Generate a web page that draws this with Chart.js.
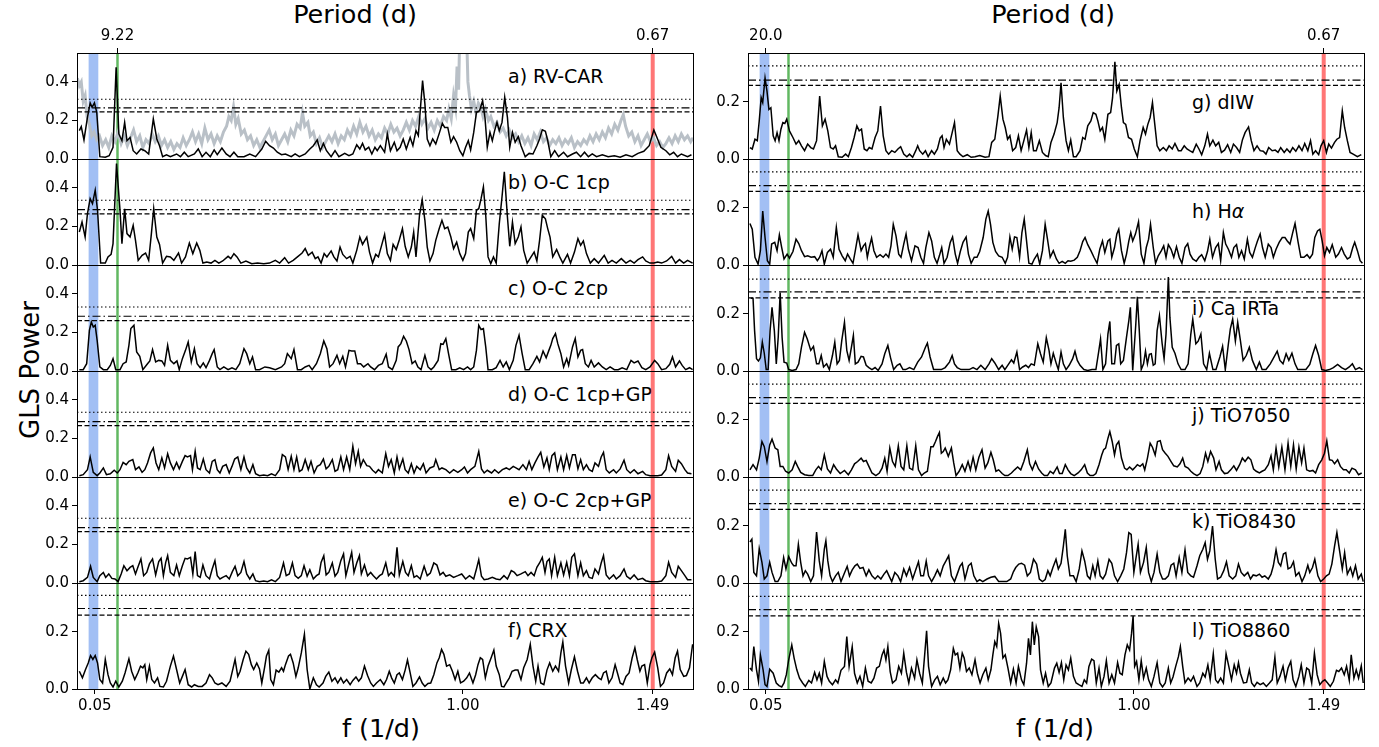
<!DOCTYPE html>
<html>
<head>
<meta charset="utf-8">
<title>GLS periodograms</title>
<script src="https://cdn.jsdelivr.net/npm/chart.js@4.4.1/dist/chart.umd.min.js"></script>
<style>
  html, body { margin: 0; padding: 0; background: #fff; }
  body { width: 1379px; height: 747px; position: relative; overflow: hidden; font-family: "DejaVu Sans", sans-serif; color: #000; }
  .panel { position: absolute; }
  .lbl { position: absolute; white-space: nowrap; font-size: 19px; line-height: 1; transform: translateY(-50%); }
  .ttl { position: absolute; white-space: nowrap; font-size: 25.5px; line-height: 1; transform: translate(-50%, -50%); }
</style>
</head>
<body>
<div class="ttl" style="left:355px;top:15px">Period (d)</div>
<div class="ttl" style="left:1053px;top:15px">Period (d)</div>
<div class="ttl" style="left:381px;top:729px">f (1/d)</div>
<div class="ttl" style="left:1055px;top:729px">f (1/d)</div>
<div class="ttl" style="left:30px;top:370px;font-size:26px;transform:translate(-50%,-50%) rotate(-90deg)">GLS Power</div>

<div class="lbl" style="left:508px;top:76px">a) RV-CAR</div>
<div class="lbl" style="left:508px;top:182px">b) O-C 1cp</div>
<div class="lbl" style="left:508px;top:288px">c) O-C 2cp</div>
<div class="lbl" style="left:508px;top:394px">d) O-C 1cp+GP</div>
<div class="lbl" style="left:508px;top:500px">e) O-C 2cp+GP</div>
<div class="lbl" style="left:508px;top:630px">f) CRX</div>
<div class="lbl" style="left:1192px;top:102px">g) dIW</div>
<div class="lbl" style="left:1192px;top:211px">h) H<i>α</i></div>
<div class="lbl" style="left:1192px;top:308px">i) Ca IRTa</div>
<div class="lbl" style="left:1192px;top:415px">j) TiO7050</div>
<div class="lbl" style="left:1192px;top:521px">k) TiO8430</div>
<div class="lbl" style="left:1192px;top:630px">l) TiO8860</div>

<script>
// frequency range (1/d) and marked signals
const xMin = 0.004, xMax = 1.594;
const blueBand = [0.034, 0.059];
const greenF = 0.1085;
const redF = 1.49;
const bottomTicks = [0.05, 1.00, 1.49];
const topTicksLeft = [0.1085, 1.49];
const topLabelsLeft = ["9.22", "0.67"];
const topTicksRight = [0.05, 1.49];
const topLabelsRight = ["20.0", "0.67"];

// FAP levels per panel a..l
const fapDotted  = [0.310, 0.336, 0.332, 0.336, 0.336, 0.327, 0.325, 0.325, 0.321, 0.324, 0.324, 0.323];
const fapDashDot = [0.265, 0.287, 0.284, 0.287, 0.287, 0.281, 0.275, 0.277, 0.276, 0.277, 0.277, 0.277];
const fapDashed  = [0.244, 0.265, 0.261, 0.267, 0.267, 0.258, 0.257, 0.257, 0.255, 0.257, 0.257, 0.255];

// [frequency, power]
const rvCar = [[0.010,0.147],[0.015,0.168],[0.022,0.099],[0.031,0.216],[0.038,0.291],[0.043,0.268],[0.049,0.291],[0.055,0.242],[0.063,0.012],[0.077,0.009],[0.087,0.017],[0.097,0.061],[0.105,0.476],[0.112,0.130],[0.120,0.095],[0.127,0.190],[0.133,0.095],[0.141,0.112],[0.149,0.043],[0.158,0.026],[0.169,0.052],[0.179,0.043],[0.189,0.026],[0.201,0.208],[0.210,0.104],[0.217,0.069],[0.225,0.012],[0.235,0.022],[0.245,0.012],[0.261,0.026],[0.271,0.012],[0.281,0.035],[0.291,0.012],[0.307,0.026],[0.317,0.052],[0.327,0.012],[0.337,0.035],[0.348,0.012],[0.358,0.047],[0.366,0.022],[0.378,0.057],[0.389,0.026],[0.399,0.012],[0.409,0.035],[0.419,0.012],[0.435,0.012],[0.450,0.026],[0.465,0.012],[0.481,0.052],[0.491,0.092],[0.501,0.069],[0.511,0.057],[0.521,0.035],[0.532,0.022],[0.542,0.026],[0.557,0.012],[0.567,0.026],[0.578,0.012],[0.593,0.026],[0.605,0.052],[0.614,0.069],[0.624,0.099],[0.632,0.043],[0.640,0.081],[0.648,0.043],[0.660,0.012],[0.670,0.043],[0.680,0.012],[0.695,0.029],[0.706,0.017],[0.716,0.026],[0.726,0.074],[0.734,0.052],[0.741,0.081],[0.748,0.047],[0.757,0.061],[0.765,0.026],[0.773,0.061],[0.779,0.043],[0.787,0.069],[0.798,0.035],[0.805,0.130],[0.813,0.043],[0.823,0.087],[0.830,0.043],[0.838,0.061],[0.846,0.104],[0.854,0.052],[0.864,0.112],[0.871,0.069],[0.879,0.147],[0.885,0.121],[0.896,0.407],[0.902,0.286],[0.908,0.104],[0.915,0.069],[0.922,0.104],[0.930,0.078],[0.939,0.133],[0.947,0.185],[0.953,0.164],[0.961,0.164],[0.969,0.087],[0.976,0.116],[0.984,0.087],[0.992,0.043],[1.000,0.017],[1.007,0.061],[1.014,0.095],[1.020,0.047],[1.028,0.138],[1.035,0.242],[1.043,0.251],[1.051,0.303],[1.057,0.216],[1.063,0.061],[1.070,0.138],[1.076,0.095],[1.082,0.147],[1.088,0.190],[1.094,0.147],[1.101,0.190],[1.108,0.320],[1.115,0.216],[1.121,0.061],[1.128,0.138],[1.135,0.087],[1.143,0.116],[1.150,0.069],[1.161,0.012],[1.171,0.029],[1.181,0.026],[1.191,0.069],[1.198,0.104],[1.205,0.151],[1.213,0.144],[1.219,0.095],[1.227,0.012],[1.237,0.043],[1.247,0.012],[1.260,0.035],[1.270,0.012],[1.283,0.026],[1.293,0.035],[1.304,0.012],[1.314,0.035],[1.324,0.012],[1.334,0.026],[1.345,0.012],[1.360,0.022],[1.375,0.012],[1.391,0.017],[1.406,0.009],[1.421,0.022],[1.437,0.012],[1.452,0.029],[1.467,0.040],[1.481,0.069],[1.493,0.151],[1.501,0.112],[1.511,0.061],[1.524,0.043],[1.534,0.022],[1.544,0.035],[1.554,0.012],[1.564,0.026],[1.580,0.012],[1.590,0.022]];

// window function drawn behind panel a
const rvCarWindow = [[0.005,0.42],[0.010,0.38],[0.015,0.40],[0.020,0.30],[0.025,0.33],[0.030,0.22],[0.036,0.18],[0.042,0.12],[0.048,0.14],[0.055,0.10],[0.062,0.12],[0.070,0.07],[0.078,0.10],[0.086,0.06],[0.094,0.12],[0.102,0.09],[0.110,0.14],[0.118,0.08],[0.126,0.12],[0.134,0.07],[0.142,0.11],[0.150,0.15],[0.158,0.09],[0.166,0.12],[0.174,0.06],[0.182,0.10],[0.190,0.08],[0.198,0.13],[0.206,0.09],[0.214,0.12],[0.222,0.07],[0.230,0.10],[0.238,0.06],[0.246,0.09],[0.254,0.05],[0.262,0.08],[0.270,0.06],[0.278,0.11],[0.286,0.07],[0.294,0.10],[0.302,0.14],[0.310,0.09],[0.318,0.13],[0.326,0.08],[0.334,0.16],[0.342,0.10],[0.350,0.13],[0.358,0.08],[0.366,0.12],[0.374,0.09],[0.382,0.14],[0.390,0.17],[0.396,0.22],[0.402,0.20],[0.408,0.27],[0.414,0.18],[0.420,0.21],[0.428,0.13],[0.436,0.15],[0.444,0.10],[0.452,0.12],[0.460,0.07],[0.468,0.10],[0.476,0.06],[0.484,0.09],[0.492,0.12],[0.500,0.15],[0.508,0.10],[0.516,0.13],[0.524,0.07],[0.532,0.10],[0.540,0.13],[0.548,0.09],[0.556,0.15],[0.564,0.12],[0.572,0.18],[0.580,0.16],[0.586,0.24],[0.592,0.17],[0.600,0.19],[0.606,0.12],[0.614,0.14],[0.622,0.08],[0.630,0.11],[0.638,0.06],[0.646,0.09],[0.654,0.12],[0.662,0.09],[0.670,0.13],[0.678,0.08],[0.686,0.12],[0.694,0.10],[0.702,0.15],[0.710,0.12],[0.718,0.17],[0.726,0.13],[0.734,0.19],[0.742,0.14],[0.750,0.17],[0.758,0.12],[0.766,0.15],[0.774,0.10],[0.782,0.13],[0.790,0.11],[0.798,0.16],[0.806,0.13],[0.814,0.18],[0.822,0.14],[0.830,0.16],[0.838,0.12],[0.846,0.15],[0.854,0.19],[0.862,0.15],[0.870,0.20],[0.878,0.17],[0.886,0.22],[0.894,0.18],[0.902,0.21],[0.910,0.16],[0.918,0.19],[0.926,0.15],[0.934,0.20],[0.942,0.17],[0.950,0.22],[0.958,0.20],[0.964,0.26],[0.970,0.21],[0.976,0.33],[0.981,0.27],[0.985,0.48],[0.989,0.36],[0.993,0.75],[0.997,0.55],[1.001,0.90],[1.005,0.62],[1.009,0.70],[1.013,0.40],[1.017,0.33],[1.022,0.26],[1.028,0.30],[1.034,0.24],[1.040,0.29],[1.046,0.27],[1.052,0.22],[1.058,0.26],[1.066,0.20],[1.072,0.22],[1.080,0.17],[1.088,0.19],[1.096,0.14],[1.104,0.16],[1.112,0.12],[1.120,0.15],[1.128,0.11],[1.136,0.13],[1.144,0.09],[1.152,0.12],[1.160,0.08],[1.168,0.11],[1.176,0.07],[1.184,0.13],[1.192,0.10],[1.200,0.14],[1.208,0.09],[1.216,0.11],[1.224,0.07],[1.232,0.10],[1.240,0.08],[1.248,0.11],[1.256,0.07],[1.264,0.10],[1.272,0.08],[1.280,0.11],[1.288,0.06],[1.296,0.09],[1.304,0.07],[1.312,0.10],[1.320,0.08],[1.328,0.12],[1.336,0.09],[1.344,0.13],[1.352,0.10],[1.360,0.14],[1.368,0.11],[1.376,0.16],[1.384,0.13],[1.392,0.18],[1.400,0.15],[1.408,0.20],[1.414,0.23],[1.420,0.17],[1.428,0.12],[1.436,0.14],[1.444,0.09],[1.452,0.12],[1.460,0.07],[1.468,0.10],[1.476,0.13],[1.484,0.09],[1.492,0.11],[1.500,0.07],[1.508,0.09],[1.516,0.06],[1.524,0.08],[1.532,0.11],[1.540,0.08],[1.548,0.12],[1.556,0.09],[1.564,0.13],[1.572,0.10],[1.580,0.12],[1.588,0.09],[1.594,0.11]];

const ocOne = [[0.010,0.171],[0.017,0.223],[0.025,0.145],[0.031,0.267],[0.038,0.344],[0.044,0.318],[0.051,0.388],[0.057,0.284],[0.065,0.010],[0.077,0.010],[0.084,0.042],[0.092,0.055],[0.097,0.111],[0.106,0.526],[0.115,0.284],[0.120,0.111],[0.127,0.292],[0.133,0.163],[0.141,0.145],[0.149,0.206],[0.155,0.128],[0.162,0.024],[0.172,0.050],[0.181,0.062],[0.189,0.024],[0.196,0.163],[0.202,0.292],[0.210,0.145],[0.217,0.107],[0.225,0.010],[0.235,0.045],[0.245,0.042],[0.254,0.024],[0.266,0.062],[0.274,0.010],[0.284,0.042],[0.294,0.114],[0.303,0.059],[0.313,0.114],[0.321,0.076],[0.329,0.010],[0.339,0.016],[0.350,0.010],[0.360,0.024],[0.370,0.010],[0.380,0.021],[0.394,0.045],[0.401,0.033],[0.409,0.059],[0.417,0.042],[0.427,0.010],[0.440,0.021],[0.455,0.007],[0.470,0.010],[0.486,0.007],[0.501,0.010],[0.516,0.024],[0.527,0.010],[0.540,0.038],[0.550,0.010],[0.562,0.024],[0.573,0.042],[0.585,0.062],[0.593,0.085],[0.601,0.050],[0.611,0.067],[0.619,0.033],[0.626,0.042],[0.634,0.010],[0.642,0.059],[0.649,0.042],[0.660,0.073],[0.667,0.042],[0.675,0.021],[0.683,0.093],[0.690,0.055],[0.700,0.033],[0.709,0.045],[0.716,0.010],[0.726,0.076],[0.734,0.145],[0.741,0.107],[0.752,0.145],[0.759,0.067],[0.767,0.010],[0.775,0.055],[0.782,0.042],[0.789,0.093],[0.798,0.159],[0.805,0.059],[0.813,0.024],[0.820,0.107],[0.828,0.080],[0.836,0.131],[0.844,0.189],[0.851,0.097],[0.859,0.042],[0.867,0.093],[0.873,0.171],[0.879,0.042],[0.888,0.258],[0.895,0.339],[0.902,0.232],[0.908,0.093],[0.915,0.021],[0.923,0.059],[0.930,0.128],[0.939,0.189],[0.946,0.232],[0.953,0.189],[0.961,0.197],[0.969,0.145],[0.976,0.085],[0.984,0.119],[0.992,0.059],[1.000,0.024],[1.007,0.059],[1.014,0.171],[1.020,0.189],[1.028,0.137],[1.035,0.284],[1.041,0.292],[1.047,0.344],[1.053,0.405],[1.059,0.258],[1.065,0.042],[1.072,0.007],[1.079,0.042],[1.086,0.010],[1.094,0.215],[1.101,0.353],[1.107,0.483],[1.115,0.249],[1.121,0.097],[1.128,0.223],[1.135,0.111],[1.143,0.145],[1.150,0.197],[1.157,0.076],[1.166,0.010],[1.176,0.042],[1.184,0.067],[1.191,0.021],[1.198,0.128],[1.205,0.258],[1.213,0.240],[1.219,0.189],[1.225,0.145],[1.232,0.042],[1.242,0.080],[1.250,0.042],[1.258,0.010],[1.270,0.055],[1.278,0.010],[1.288,0.067],[1.297,0.137],[1.304,0.102],[1.311,0.125],[1.319,0.059],[1.329,0.010],[1.339,0.033],[1.350,0.010],[1.365,0.050],[1.375,0.010],[1.385,0.024],[1.396,0.010],[1.409,0.033],[1.421,0.010],[1.432,0.024],[1.442,0.010],[1.452,0.028],[1.464,0.042],[1.472,0.021],[1.483,0.010],[1.493,0.010],[1.503,0.016],[1.513,0.010],[1.526,0.021],[1.539,0.045],[1.549,0.010],[1.559,0.028],[1.570,0.010],[1.580,0.024],[1.593,0.010]];

const ocTwo = [[0.010,0.007],[0.020,0.007],[0.029,0.038],[0.036,0.211],[0.041,0.254],[0.046,0.228],[0.051,0.237],[0.056,0.159],[0.063,0.021],[0.072,0.007],[0.082,0.007],[0.090,0.029],[0.097,0.064],[0.104,0.007],[0.115,0.007],[0.123,0.038],[0.131,0.047],[0.138,0.133],[0.143,0.220],[0.151,0.237],[0.158,0.099],[0.166,0.076],[0.174,0.007],[0.186,0.038],[0.192,0.052],[0.199,0.111],[0.207,0.047],[0.215,0.055],[0.223,0.052],[0.230,0.029],[0.238,0.133],[0.245,0.055],[0.254,0.038],[0.262,0.052],[0.268,0.007],[0.276,0.064],[0.284,0.107],[0.291,0.151],[0.299,0.047],[0.307,0.116],[0.314,0.038],[0.322,0.017],[0.330,0.042],[0.337,0.017],[0.346,0.055],[0.353,0.090],[0.358,0.111],[0.366,0.021],[0.373,0.007],[0.383,0.021],[0.394,0.007],[0.404,0.017],[0.414,0.007],[0.424,0.038],[0.435,0.116],[0.442,0.090],[0.450,0.038],[0.457,0.073],[0.465,0.007],[0.475,0.007],[0.489,0.021],[0.501,0.017],[0.516,0.007],[0.532,0.021],[0.540,0.038],[0.547,0.090],[0.557,0.064],[0.564,0.111],[0.573,0.007],[0.583,0.007],[0.593,0.021],[0.603,0.029],[0.611,0.007],[0.622,0.038],[0.632,0.090],[0.641,0.156],[0.649,0.116],[0.656,0.021],[0.665,0.038],[0.675,0.081],[0.682,0.038],[0.690,0.076],[0.697,0.021],[0.706,0.107],[0.713,0.104],[0.721,0.104],[0.728,0.038],[0.736,0.038],[0.744,0.021],[0.755,0.038],[0.762,0.021],[0.772,0.007],[0.782,0.029],[0.792,0.038],[0.802,0.087],[0.808,0.021],[0.818,0.007],[0.828,0.055],[0.833,0.125],[0.840,0.142],[0.847,0.180],[0.854,0.156],[0.861,0.111],[0.869,0.038],[0.877,0.052],[0.884,0.021],[0.892,0.007],[0.902,0.081],[0.910,0.021],[0.918,0.007],[0.925,0.021],[0.936,0.055],[0.943,0.142],[0.949,0.138],[0.956,0.168],[0.963,0.090],[0.971,0.007],[0.982,0.007],[0.992,0.017],[1.002,0.007],[1.012,0.021],[1.020,0.007],[1.028,0.021],[1.035,0.107],[1.041,0.237],[1.047,0.215],[1.053,0.220],[1.059,0.125],[1.065,0.007],[1.076,0.007],[1.086,0.017],[1.096,0.055],[1.104,0.021],[1.112,0.047],[1.120,0.007],[1.130,0.055],[1.137,0.133],[1.145,0.185],[1.153,0.090],[1.161,0.007],[1.171,0.007],[1.181,0.038],[1.191,0.076],[1.198,0.047],[1.207,0.104],[1.215,0.069],[1.222,0.107],[1.227,0.133],[1.232,0.168],[1.239,0.194],[1.245,0.142],[1.253,0.090],[1.260,0.021],[1.268,0.064],[1.273,0.029],[1.283,0.125],[1.290,0.168],[1.297,0.073],[1.304,0.107],[1.309,0.111],[1.316,0.038],[1.324,0.021],[1.331,0.055],[1.339,0.021],[1.350,0.042],[1.360,0.021],[1.370,0.007],[1.380,0.021],[1.391,0.007],[1.401,0.007],[1.411,0.017],[1.423,0.007],[1.434,0.055],[1.442,0.042],[1.452,0.052],[1.462,0.017],[1.472,0.007],[1.483,0.021],[1.495,0.055],[1.503,0.038],[1.513,0.007],[1.524,0.012],[1.534,0.035],[1.541,0.073],[1.549,0.021],[1.559,0.052],[1.566,0.029],[1.575,0.007],[1.585,0.017],[1.593,0.007]];

const ocOneGp = [[0.010,0.007],[0.020,0.012],[0.031,0.038],[0.038,0.104],[0.046,0.024],[0.056,0.007],[0.063,0.021],[0.072,0.047],[0.080,0.012],[0.090,0.017],[0.100,0.035],[0.108,0.021],[0.115,0.038],[0.123,0.076],[0.131,0.064],[0.138,0.081],[0.148,0.090],[0.155,0.038],[0.164,0.052],[0.172,0.024],[0.179,0.038],[0.186,0.073],[0.194,0.125],[0.201,0.151],[0.208,0.073],[0.215,0.038],[0.223,0.099],[0.230,0.047],[0.238,0.121],[0.245,0.073],[0.253,0.038],[0.261,0.076],[0.268,0.042],[0.276,0.081],[0.283,0.111],[0.289,0.104],[0.297,0.111],[0.302,0.038],[0.309,0.133],[0.315,0.047],[0.322,0.038],[0.330,0.093],[0.337,0.038],[0.346,0.021],[0.353,0.081],[0.360,0.090],[0.366,0.038],[0.373,0.021],[0.380,0.055],[0.389,0.064],[0.397,0.021],[0.404,0.055],[0.411,0.093],[0.419,0.104],[0.427,0.038],[0.435,0.104],[0.442,0.047],[0.450,0.021],[0.458,0.064],[0.465,0.017],[0.475,0.007],[0.486,0.010],[0.496,0.007],[0.506,0.017],[0.516,0.007],[0.527,0.038],[0.534,0.116],[0.542,0.104],[0.549,0.038],[0.557,0.107],[0.564,0.038],[0.571,0.104],[0.578,0.029],[0.585,0.038],[0.593,0.090],[0.601,0.038],[0.608,0.081],[0.616,0.021],[0.624,0.055],[0.632,0.064],[0.640,0.093],[0.647,0.042],[0.654,0.055],[0.663,0.090],[0.670,0.029],[0.677,0.038],[0.685,0.104],[0.692,0.038],[0.700,0.104],[0.708,0.038],[0.716,0.159],[0.723,0.069],[0.730,0.133],[0.736,0.055],[0.743,0.090],[0.752,0.059],[0.759,0.055],[0.767,0.035],[0.775,0.021],[0.782,0.038],[0.792,0.021],[0.801,0.121],[0.808,0.055],[0.815,0.090],[0.823,0.021],[0.830,0.104],[0.836,0.042],[0.845,0.093],[0.851,0.038],[0.859,0.021],[0.867,0.069],[0.874,0.021],[0.881,0.055],[0.890,0.038],[0.898,0.069],[0.905,0.021],[0.915,0.047],[0.925,0.055],[0.930,0.090],[0.939,0.038],[0.946,0.047],[0.956,0.038],[0.966,0.021],[0.976,0.038],[0.987,0.024],[0.997,0.038],[1.004,0.052],[1.012,0.021],[1.020,0.038],[1.031,0.055],[1.041,0.133],[1.048,0.042],[1.055,0.021],[1.063,0.035],[1.074,0.021],[1.082,0.038],[1.092,0.021],[1.102,0.038],[1.112,0.047],[1.120,0.038],[1.130,0.055],[1.137,0.047],[1.145,0.038],[1.155,0.064],[1.164,0.038],[1.171,0.081],[1.178,0.038],[1.186,0.073],[1.194,0.104],[1.201,0.128],[1.209,0.052],[1.217,0.099],[1.223,0.038],[1.230,0.111],[1.237,0.125],[1.244,0.038],[1.253,0.104],[1.260,0.038],[1.268,0.111],[1.275,0.047],[1.283,0.116],[1.290,0.116],[1.297,0.042],[1.304,0.090],[1.311,0.038],[1.319,0.064],[1.326,0.038],[1.334,0.029],[1.341,0.073],[1.350,0.055],[1.357,0.104],[1.363,0.128],[1.370,0.038],[1.378,0.021],[1.389,0.038],[1.396,0.021],[1.406,0.042],[1.416,0.087],[1.423,0.038],[1.432,0.021],[1.442,0.038],[1.452,0.017],[1.464,0.029],[1.472,0.012],[1.483,0.007],[1.493,0.007],[1.503,0.007],[1.513,0.010],[1.524,0.038],[1.531,0.111],[1.539,0.055],[1.549,0.029],[1.556,0.087],[1.564,0.069],[1.573,0.038],[1.580,0.021],[1.590,0.017]];

const ocTwoGp = [[0.010,0.007],[0.020,0.012],[0.031,0.029],[0.039,0.087],[0.046,0.029],[0.056,0.007],[0.063,0.038],[0.072,0.055],[0.078,0.029],[0.086,0.047],[0.094,0.024],[0.102,0.021],[0.110,0.007],[0.118,0.047],[0.125,0.090],[0.133,0.064],[0.141,0.081],[0.148,0.090],[0.155,0.047],[0.162,0.087],[0.169,0.125],[0.176,0.038],[0.184,0.055],[0.191,0.099],[0.199,0.125],[0.207,0.042],[0.215,0.111],[0.221,0.128],[0.227,0.038],[0.233,0.107],[0.238,0.142],[0.245,0.055],[0.254,0.038],[0.261,0.093],[0.268,0.038],[0.276,0.090],[0.283,0.128],[0.289,0.125],[0.297,0.133],[0.303,0.047],[0.309,0.163],[0.315,0.038],[0.322,0.029],[0.329,0.093],[0.337,0.038],[0.346,0.021],[0.353,0.073],[0.360,0.116],[0.366,0.038],[0.373,0.021],[0.380,0.029],[0.389,0.038],[0.397,0.021],[0.405,0.059],[0.412,0.087],[0.419,0.038],[0.427,0.055],[0.435,0.111],[0.442,0.047],[0.450,0.021],[0.458,0.047],[0.465,0.012],[0.475,0.007],[0.486,0.010],[0.496,0.007],[0.506,0.017],[0.516,0.007],[0.527,0.029],[0.537,0.104],[0.544,0.038],[0.552,0.047],[0.560,0.104],[0.567,0.038],[0.575,0.024],[0.583,0.038],[0.590,0.090],[0.598,0.035],[0.605,0.069],[0.614,0.021],[0.622,0.038],[0.629,0.047],[0.634,0.107],[0.641,0.142],[0.647,0.042],[0.654,0.055],[0.663,0.104],[0.670,0.035],[0.677,0.055],[0.685,0.116],[0.692,0.151],[0.698,0.038],[0.706,0.104],[0.713,0.159],[0.719,0.055],[0.726,0.104],[0.733,0.142],[0.738,0.047],[0.746,0.093],[0.754,0.038],[0.762,0.055],[0.769,0.038],[0.777,0.021],[0.785,0.038],[0.792,0.047],[0.801,0.104],[0.808,0.038],[0.815,0.055],[0.823,0.035],[0.830,0.185],[0.836,0.042],[0.845,0.111],[0.852,0.055],[0.859,0.038],[0.867,0.090],[0.874,0.029],[0.881,0.038],[0.890,0.021],[0.900,0.087],[0.908,0.038],[0.916,0.052],[0.925,0.104],[0.933,0.093],[0.941,0.042],[0.949,0.055],[0.956,0.035],[0.966,0.042],[0.976,0.029],[0.987,0.038],[0.997,0.047],[1.007,0.021],[1.017,0.038],[1.028,0.021],[1.035,0.073],[1.041,0.121],[1.048,0.035],[1.055,0.017],[1.065,0.021],[1.076,0.029],[1.086,0.021],[1.096,0.017],[1.106,0.038],[1.115,0.021],[1.125,0.064],[1.133,0.055],[1.140,0.038],[1.150,0.047],[1.161,0.059],[1.168,0.038],[1.176,0.055],[1.184,0.038],[1.191,0.081],[1.198,0.104],[1.205,0.133],[1.212,0.055],[1.217,0.111],[1.223,0.125],[1.229,0.038],[1.237,0.133],[1.244,0.038],[1.253,0.104],[1.260,0.042],[1.268,0.107],[1.275,0.038],[1.281,0.133],[1.288,0.151],[1.297,0.038],[1.304,0.104],[1.311,0.038],[1.319,0.064],[1.326,0.029],[1.334,0.024],[1.341,0.073],[1.350,0.047],[1.357,0.104],[1.363,0.142],[1.370,0.042],[1.378,0.021],[1.389,0.042],[1.396,0.021],[1.406,0.038],[1.416,0.073],[1.423,0.035],[1.432,0.021],[1.442,0.042],[1.452,0.017],[1.464,0.024],[1.472,0.012],[1.483,0.007],[1.493,0.007],[1.503,0.007],[1.513,0.010],[1.524,0.038],[1.531,0.107],[1.539,0.055],[1.549,0.029],[1.556,0.087],[1.564,0.064],[1.573,0.038],[1.580,0.017],[1.590,0.017]];

const crx = [[0.010,0.062],[0.018,0.039],[0.026,0.068],[0.033,0.091],[0.039,0.117],[0.045,0.103],[0.051,0.117],[0.057,0.091],[0.063,0.033],[0.070,0.021],[0.077,0.103],[0.084,0.050],[0.090,0.021],[0.097,0.007],[0.104,0.027],[0.112,0.007],[0.121,0.027],[0.128,0.056],[0.138,0.105],[0.145,0.062],[0.153,0.033],[0.161,0.056],[0.168,0.080],[0.174,0.074],[0.179,0.085],[0.184,0.033],[0.191,0.080],[0.197,0.033],[0.204,0.021],[0.212,0.039],[0.218,0.009],[0.227,0.007],[0.235,0.027],[0.245,0.080],[0.253,0.115],[0.261,0.068],[0.269,0.021],[0.276,0.044],[0.283,0.068],[0.291,0.015],[0.300,0.007],[0.307,0.015],[0.317,0.009],[0.327,0.009],[0.337,0.021],[0.346,0.050],[0.353,0.039],[0.360,0.021],[0.368,0.015],[0.378,0.021],[0.389,0.009],[0.399,0.027],[0.407,0.074],[0.412,0.103],[0.419,0.044],[0.425,0.062],[0.433,0.103],[0.440,0.132],[0.447,0.121],[0.454,0.085],[0.460,0.068],[0.468,0.091],[0.475,0.070],[0.481,0.021],[0.488,0.074],[0.493,0.115],[0.499,0.135],[0.504,0.033],[0.511,0.015],[0.518,0.066],[0.525,0.059],[0.532,0.074],[0.537,0.062],[0.542,0.085],[0.550,0.115],[0.555,0.121],[0.562,0.091],[0.569,0.044],[0.575,0.074],[0.583,0.126],[0.591,0.191],[0.598,0.068],[0.605,0.000],[0.614,0.039],[0.622,0.015],[0.629,0.007],[0.639,0.021],[0.646,0.044],[0.654,0.059],[0.662,0.027],[0.670,0.039],[0.677,0.021],[0.685,0.039],[0.692,0.021],[0.700,0.033],[0.709,0.015],[0.716,0.030],[0.724,0.042],[0.731,0.027],[0.738,0.039],[0.746,0.080],[0.754,0.047],[0.762,0.021],[0.769,0.009],[0.777,0.021],[0.787,0.033],[0.796,0.015],[0.803,0.033],[0.810,0.062],[0.816,0.039],[0.823,0.021],[0.830,0.050],[0.836,0.056],[0.844,0.033],[0.851,0.066],[0.857,0.101],[0.864,0.056],[0.871,0.009],[0.879,0.021],[0.888,0.042],[0.895,0.021],[0.902,0.009],[0.910,0.019],[0.917,0.021],[0.925,0.050],[0.933,0.091],[0.939,0.109],[0.945,0.138],[0.951,0.121],[0.958,0.080],[0.966,0.085],[0.973,0.062],[0.980,0.033],[0.987,0.062],[0.994,0.021],[1.002,0.027],[1.010,0.039],[1.017,0.056],[1.026,0.021],[1.033,0.050],[1.039,0.085],[1.045,0.109],[1.051,0.103],[1.058,0.039],[1.065,0.080],[1.073,0.109],[1.080,0.136],[1.086,0.080],[1.094,0.050],[1.100,0.009],[1.106,0.007],[1.112,0.021],[1.120,0.039],[1.127,0.062],[1.135,0.066],[1.142,0.066],[1.150,0.033],[1.157,0.074],[1.166,0.103],[1.174,0.156],[1.181,0.080],[1.188,0.027],[1.194,0.080],[1.201,0.021],[1.209,0.015],[1.217,0.066],[1.224,0.091],[1.232,0.062],[1.239,0.080],[1.247,0.062],[1.253,0.126],[1.258,0.164],[1.265,0.080],[1.273,0.021],[1.280,0.068],[1.288,0.112],[1.296,0.062],[1.304,0.021],[1.311,0.021],[1.319,0.039],[1.326,0.021],[1.334,0.039],[1.342,0.050],[1.350,0.039],[1.357,0.033],[1.363,0.056],[1.370,0.062],[1.377,0.021],[1.385,0.039],[1.393,0.085],[1.399,0.056],[1.406,0.021],[1.413,0.015],[1.421,0.044],[1.429,0.056],[1.437,0.109],[1.444,0.144],[1.450,0.103],[1.457,0.062],[1.462,0.080],[1.469,0.085],[1.476,0.021],[1.483,0.085],[1.488,0.109],[1.495,0.129],[1.503,0.074],[1.510,0.009],[1.518,0.021],[1.526,0.056],[1.534,0.070],[1.541,0.050],[1.548,0.109],[1.554,0.132],[1.561,0.068],[1.570,0.044],[1.577,0.047],[1.585,0.074],[1.593,0.156]];

const dlw = [[0.009,0.040],[0.015,0.035],[0.022,0.069],[0.028,0.064],[0.033,0.133],[0.038,0.214],[0.042,0.197],[0.048,0.283],[0.053,0.237],[0.058,0.173],[0.063,0.179],[0.069,0.081],[0.074,0.064],[0.079,0.092],[0.084,0.064],[0.089,0.104],[0.094,0.127],[0.099,0.124],[0.104,0.139],[0.111,0.098],[0.120,0.075],[0.128,0.052],[0.135,0.064],[0.142,0.046],[0.150,0.029],[0.158,0.052],[0.166,0.040],[0.173,0.035],[0.181,0.064],[0.189,0.220],[0.196,0.116],[0.203,0.139],[0.210,0.098],[0.217,0.040],[0.224,0.035],[0.230,0.046],[0.237,0.008],[0.247,0.006],[0.256,0.017],[0.263,0.008],[0.271,0.040],[0.278,0.075],[0.285,0.116],[0.291,0.098],[0.297,0.104],[0.304,0.035],[0.311,0.029],[0.317,0.040],[0.324,0.035],[0.332,0.075],[0.339,0.098],[0.346,0.185],[0.353,0.081],[0.360,0.029],[0.367,0.017],[0.375,0.029],[0.383,0.023],[0.391,0.035],[0.398,0.043],[0.406,0.017],[0.414,0.008],[0.421,0.017],[0.429,0.006],[0.437,0.029],[0.442,0.046],[0.447,0.029],[0.455,0.017],[0.462,0.029],[0.469,0.008],[0.478,0.029],[0.485,0.017],[0.493,0.035],[0.500,0.073],[0.505,0.081],[0.510,0.040],[0.516,0.069],[0.524,0.052],[0.531,0.092],[0.537,0.127],[0.544,0.029],[0.551,0.017],[0.559,0.008],[0.570,0.015],[0.580,0.006],[0.590,0.008],[0.602,0.012],[0.616,0.006],[0.626,0.008],[0.633,0.058],[0.641,0.069],[0.649,0.150],[0.655,0.220],[0.662,0.139],[0.668,0.110],[0.674,0.069],[0.680,0.081],[0.687,0.029],[0.695,0.040],[0.702,0.081],[0.709,0.029],[0.716,0.064],[0.723,0.101],[0.729,0.040],[0.735,0.092],[0.741,0.029],[0.748,0.029],[0.756,0.064],[0.764,0.023],[0.772,0.012],[0.779,0.008],[0.786,0.058],[0.794,0.087],[0.802,0.127],[0.807,0.179],[0.812,0.266],[0.818,0.145],[0.825,0.064],[0.831,0.029],[0.837,0.066],[0.844,0.008],[0.851,0.008],[0.861,0.029],[0.868,0.075],[0.874,0.069],[0.881,0.116],[0.889,0.133],[0.895,0.162],[0.902,0.156],[0.907,0.133],[0.913,0.098],[0.919,0.110],[0.925,0.069],[0.933,0.156],[0.940,0.162],[0.945,0.214],[0.951,0.339],[0.956,0.237],[0.962,0.260],[0.968,0.179],[0.973,0.127],[0.979,0.121],[0.986,0.075],[0.994,0.069],[1.001,0.035],[1.009,0.008],[1.016,0.064],[1.024,0.110],[1.030,0.087],[1.036,0.121],[1.042,0.145],[1.048,0.197],[1.054,0.121],[1.060,0.046],[1.067,0.029],[1.076,0.040],[1.084,0.029],[1.091,0.046],[1.099,0.035],[1.106,0.054],[1.115,0.029],[1.122,0.029],[1.130,0.046],[1.137,0.035],[1.144,0.029],[1.152,0.023],[1.161,0.052],[1.168,0.035],[1.175,0.015],[1.183,0.046],[1.190,0.087],[1.196,0.046],[1.204,0.066],[1.211,0.046],[1.219,0.058],[1.226,0.023],[1.234,0.031],[1.242,0.050],[1.250,0.023],[1.257,0.052],[1.265,0.040],[1.273,0.023],[1.280,0.066],[1.287,0.092],[1.296,0.112],[1.303,0.064],[1.310,0.029],[1.318,0.046],[1.326,0.029],[1.334,0.027],[1.341,0.017],[1.348,0.040],[1.357,0.029],[1.365,0.031],[1.372,0.023],[1.379,0.040],[1.388,0.023],[1.395,0.035],[1.403,0.023],[1.410,0.040],[1.418,0.027],[1.426,0.046],[1.434,0.029],[1.441,0.054],[1.449,0.029],[1.456,0.064],[1.462,0.017],[1.469,0.029],[1.477,0.015],[1.483,0.046],[1.490,0.064],[1.497,0.023],[1.503,0.052],[1.510,0.038],[1.518,0.058],[1.524,0.069],[1.531,0.075],[1.538,0.168],[1.544,0.110],[1.551,0.064],[1.558,0.023],[1.566,0.017],[1.577,0.008],[1.587,0.015]];

const halpha = [[0.009,0.145],[0.015,0.125],[0.022,0.027],[0.030,0.003],[0.036,0.050],[0.042,0.188],[0.048,0.096],[0.054,0.015],[0.060,0.003],[0.065,0.073],[0.073,0.079],[0.079,0.050],[0.085,0.105],[0.091,0.061],[0.097,0.021],[0.105,0.038],[0.111,0.024],[0.120,0.047],[0.128,0.090],[0.135,0.075],[0.142,0.050],[0.150,0.029],[0.158,0.032],[0.167,0.027],[0.176,0.029],[0.183,0.015],[0.189,0.027],[0.195,0.050],[0.201,0.003],[0.209,0.044],[0.217,0.055],[0.224,0.027],[0.232,0.131],[0.239,0.055],[0.247,0.032],[0.255,0.015],[0.261,0.038],[0.268,0.021],[0.275,0.006],[0.281,0.050],[0.288,0.105],[0.296,0.050],[0.302,0.067],[0.307,0.075],[0.312,0.027],[0.317,0.061],[0.323,0.094],[0.329,0.050],[0.336,0.027],[0.345,0.036],[0.353,0.027],[0.360,0.038],[0.367,0.027],[0.373,0.067],[0.379,0.142],[0.386,0.102],[0.393,0.038],[0.399,0.027],[0.406,0.073],[0.412,0.108],[0.418,0.055],[0.426,0.015],[0.435,0.067],[0.443,0.061],[0.450,0.027],[0.457,0.006],[0.463,0.061],[0.471,0.113],[0.478,0.084],[0.485,0.027],[0.492,0.006],[0.498,0.032],[0.504,0.061],[0.510,0.006],[0.518,0.027],[0.526,0.079],[0.532,0.098],[0.539,0.038],[0.545,0.006],[0.552,0.047],[0.559,0.079],[0.567,0.098],[0.573,0.038],[0.580,0.006],[0.588,0.027],[0.595,0.027],[0.602,0.047],[0.611,0.096],[0.618,0.160],[0.624,0.188],[0.630,0.142],[0.636,0.079],[0.643,0.047],[0.651,0.032],[0.660,0.027],[0.668,0.006],[0.674,0.027],[0.680,0.098],[0.686,0.055],[0.692,0.098],[0.698,0.096],[0.705,0.027],[0.711,0.113],[0.717,0.160],[0.723,0.084],[0.729,0.006],[0.737,0.003],[0.743,0.021],[0.751,0.038],[0.757,0.003],[0.764,0.050],[0.771,0.142],[0.777,0.090],[0.784,0.027],[0.792,0.050],[0.800,0.021],[0.807,0.006],[0.815,0.013],[0.823,0.006],[0.830,0.015],[0.837,0.013],[0.846,0.017],[0.854,0.027],[0.861,0.050],[0.868,0.082],[0.874,0.096],[0.881,0.071],[0.889,0.050],[0.897,0.027],[0.905,0.006],[0.912,0.055],[0.919,0.084],[0.925,0.044],[0.933,0.084],[0.938,0.090],[0.943,0.027],[0.950,0.061],[0.956,0.108],[0.961,0.125],[0.968,0.050],[0.975,0.006],[0.981,0.038],[0.987,0.084],[0.992,0.113],[0.997,0.084],[1.004,0.108],[1.012,0.151],[1.019,0.038],[1.026,0.006],[1.032,0.061],[1.038,0.090],[1.043,0.142],[1.050,0.061],[1.056,0.006],[1.063,0.032],[1.071,0.050],[1.077,0.067],[1.083,0.027],[1.089,0.071],[1.096,0.055],[1.103,0.027],[1.110,0.064],[1.117,0.027],[1.124,0.006],[1.132,0.061],[1.139,0.075],[1.145,0.038],[1.152,0.021],[1.161,0.013],[1.168,0.027],[1.175,0.036],[1.183,0.015],[1.190,0.047],[1.196,0.090],[1.203,0.027],[1.211,0.061],[1.218,0.075],[1.224,0.015],[1.231,0.113],[1.237,0.073],[1.244,0.055],[1.252,0.027],[1.258,0.061],[1.265,0.071],[1.271,0.027],[1.278,0.050],[1.285,0.021],[1.293,0.090],[1.299,0.044],[1.306,0.027],[1.313,0.059],[1.319,0.084],[1.326,0.108],[1.332,0.061],[1.339,0.027],[1.347,0.073],[1.354,0.061],[1.360,0.027],[1.367,0.055],[1.375,0.079],[1.383,0.096],[1.390,0.096],[1.396,0.084],[1.403,0.073],[1.410,0.113],[1.416,0.145],[1.424,0.079],[1.431,0.027],[1.439,0.027],[1.447,0.036],[1.454,0.024],[1.461,0.038],[1.467,0.096],[1.474,0.119],[1.480,0.125],[1.486,0.084],[1.492,0.032],[1.498,0.061],[1.505,0.044],[1.512,0.071],[1.521,0.027],[1.528,0.038],[1.536,0.061],[1.543,0.038],[1.551,0.021],[1.558,0.027],[1.565,0.061],[1.570,0.079],[1.577,0.050],[1.584,0.015],[1.590,0.006]];

const caIrt = [[0.011,0.254],[0.017,0.254],[0.021,0.141],[0.026,0.043],[0.031,0.035],[0.036,0.046],[0.041,0.101],[0.046,0.062],[0.051,0.005],[0.056,0.005],[0.061,0.141],[0.066,0.222],[0.072,0.141],[0.077,0.025],[0.082,0.118],[0.087,0.274],[0.092,0.118],[0.097,0.031],[0.104,0.028],[0.109,0.005],[0.118,0.002],[0.128,0.005],[0.135,0.025],[0.142,0.083],[0.150,0.135],[0.157,0.112],[0.166,0.072],[0.173,0.086],[0.181,0.025],[0.187,0.025],[0.193,0.054],[0.199,0.014],[0.207,0.025],[0.214,0.005],[0.222,0.054],[0.228,0.101],[0.234,0.025],[0.240,0.037],[0.246,0.106],[0.253,0.170],[0.259,0.072],[0.265,0.037],[0.271,0.083],[0.276,0.124],[0.281,0.025],[0.288,0.031],[0.296,0.051],[0.302,0.049],[0.309,0.020],[0.316,0.012],[0.324,0.005],[0.332,0.012],[0.340,0.002],[0.350,0.025],[0.357,0.060],[0.365,0.089],[0.372,0.046],[0.380,0.005],[0.389,0.020],[0.396,0.025],[0.404,0.005],[0.411,0.005],[0.421,0.012],[0.432,0.005],[0.442,0.031],[0.452,0.049],[0.462,0.083],[0.467,0.097],[0.474,0.049],[0.483,0.005],[0.493,0.005],[0.503,0.005],[0.513,0.012],[0.524,0.031],[0.531,0.054],[0.537,0.025],[0.544,0.012],[0.554,0.005],[0.564,0.005],[0.575,0.005],[0.585,0.012],[0.595,0.005],[0.605,0.020],[0.616,0.005],[0.626,0.025],[0.633,0.043],[0.641,0.028],[0.651,0.005],[0.660,0.020],[0.667,0.005],[0.677,0.025],[0.684,0.039],[0.690,0.028],[0.698,0.066],[0.705,0.005],[0.713,0.014],[0.721,0.020],[0.728,0.012],[0.735,0.025],[0.743,0.020],[0.752,0.095],[0.759,0.060],[0.766,0.031],[0.774,0.116],[0.781,0.072],[0.786,0.025],[0.792,0.062],[0.800,0.025],[0.805,0.005],[0.812,0.066],[0.818,0.025],[0.825,0.005],[0.833,0.020],[0.842,0.043],[0.848,0.069],[0.854,0.037],[0.861,0.020],[0.871,0.005],[0.881,0.002],[0.892,0.005],[0.902,0.005],[0.909,0.066],[0.914,0.112],[0.920,0.005],[0.927,0.025],[0.933,0.129],[0.938,0.173],[0.943,0.025],[0.950,0.025],[0.955,0.089],[0.961,0.095],[0.966,0.025],[0.973,0.037],[0.981,0.118],[0.987,0.176],[0.991,0.222],[0.997,0.002],[1.001,0.083],[1.005,0.164],[1.009,0.259],[1.014,0.141],[1.019,0.005],[1.025,0.025],[1.030,0.069],[1.035,0.025],[1.040,0.058],[1.045,0.060],[1.050,0.020],[1.055,0.025],[1.060,0.141],[1.066,0.193],[1.073,0.095],[1.078,0.043],[1.083,0.129],[1.089,0.328],[1.093,0.187],[1.099,0.083],[1.106,0.062],[1.114,0.025],[1.122,0.005],[1.132,0.005],[1.140,0.025],[1.147,0.129],[1.152,0.181],[1.160,0.095],[1.166,0.104],[1.173,0.129],[1.180,0.025],[1.188,0.005],[1.195,0.062],[1.204,0.005],[1.212,0.005],[1.222,0.049],[1.229,0.086],[1.236,0.005],[1.244,0.095],[1.249,0.147],[1.255,0.181],[1.262,0.104],[1.268,0.170],[1.275,0.106],[1.282,0.037],[1.290,0.054],[1.298,0.083],[1.306,0.037],[1.316,0.005],[1.324,0.031],[1.331,0.005],[1.341,0.005],[1.352,0.025],[1.362,0.049],[1.370,0.069],[1.377,0.037],[1.385,0.025],[1.393,0.060],[1.400,0.037],[1.408,0.062],[1.416,0.025],[1.423,0.005],[1.434,0.005],[1.444,0.005],[1.454,0.023],[1.462,0.060],[1.469,0.089],[1.477,0.054],[1.485,0.005],[1.495,0.002],[1.505,0.005],[1.515,0.012],[1.526,0.023],[1.536,0.012],[1.546,0.005],[1.556,0.014],[1.564,0.025],[1.572,0.005],[1.582,0.012],[1.590,0.005]];

const tio7050 = [[0.009,0.025],[0.017,0.043],[0.026,0.025],[0.033,0.066],[0.040,0.124],[0.046,0.106],[0.053,0.054],[0.060,0.112],[0.066,0.132],[0.074,0.101],[0.081,0.095],[0.087,0.037],[0.094,0.037],[0.101,0.020],[0.109,0.014],[0.118,0.025],[0.126,0.054],[0.132,0.037],[0.140,0.016],[0.150,0.008],[0.161,0.005],[0.171,0.005],[0.179,0.025],[0.186,0.037],[0.193,0.025],[0.201,0.077],[0.209,0.028],[0.217,0.014],[0.225,0.043],[0.232,0.028],[0.242,0.012],[0.253,0.023],[0.263,0.008],[0.271,0.025],[0.279,0.046],[0.287,0.054],[0.296,0.066],[0.302,0.054],[0.309,0.058],[0.316,0.037],[0.324,0.014],[0.334,0.005],[0.343,0.014],[0.350,0.031],[0.357,0.066],[0.363,0.020],[0.370,0.101],[0.377,0.054],[0.384,0.037],[0.392,0.109],[0.399,0.037],[0.406,0.025],[0.414,0.109],[0.421,0.031],[0.429,0.025],[0.437,0.109],[0.444,0.025],[0.452,0.005],[0.459,0.014],[0.467,0.020],[0.476,0.106],[0.482,0.106],[0.488,0.124],[0.493,0.141],[0.498,0.155],[0.503,0.083],[0.508,0.089],[0.513,0.101],[0.521,0.072],[0.529,0.101],[0.535,0.049],[0.541,0.005],[0.549,0.020],[0.557,0.043],[0.564,0.020],[0.572,0.054],[0.578,0.025],[0.585,0.069],[0.592,0.025],[0.600,0.069],[0.608,0.095],[0.616,0.031],[0.623,0.049],[0.631,0.086],[0.637,0.060],[0.644,0.020],[0.651,0.025],[0.660,0.012],[0.667,0.005],[0.675,0.005],[0.684,0.014],[0.692,0.025],[0.700,0.035],[0.708,0.025],[0.716,0.054],[0.725,0.095],[0.731,0.046],[0.738,0.025],[0.746,0.054],[0.754,0.028],[0.762,0.014],[0.769,0.005],[0.777,0.005],[0.784,0.020],[0.792,0.012],[0.802,0.035],[0.808,0.012],[0.815,0.012],[0.823,0.043],[0.830,0.025],[0.837,0.012],[0.846,0.005],[0.856,0.014],[0.864,0.025],[0.873,0.043],[0.880,0.014],[0.887,0.005],[0.895,0.005],[0.902,0.012],[0.910,0.043],[0.917,0.077],[0.922,0.095],[0.927,0.101],[0.933,0.135],[0.938,0.158],[0.944,0.124],[0.950,0.077],[0.955,0.112],[0.961,0.124],[0.968,0.066],[0.976,0.031],[0.982,0.025],[0.989,0.035],[0.997,0.025],[1.004,0.035],[1.009,0.043],[1.016,0.037],[1.023,0.046],[1.028,0.025],[1.035,0.066],[1.042,0.118],[1.048,0.104],[1.055,0.077],[1.061,0.124],[1.068,0.127],[1.074,0.095],[1.081,0.083],[1.088,0.072],[1.096,0.054],[1.103,0.039],[1.112,0.035],[1.119,0.046],[1.126,0.066],[1.132,0.037],[1.140,0.031],[1.147,0.020],[1.154,0.012],[1.163,0.005],[1.171,0.012],[1.178,0.037],[1.185,0.083],[1.191,0.054],[1.198,0.089],[1.206,0.066],[1.212,0.025],[1.220,0.054],[1.226,0.025],[1.234,0.012],[1.242,0.014],[1.250,0.025],[1.258,0.039],[1.265,0.023],[1.273,0.043],[1.280,0.066],[1.287,0.054],[1.295,0.069],[1.302,0.060],[1.309,0.028],[1.316,0.020],[1.324,0.014],[1.331,0.020],[1.338,0.025],[1.347,0.043],[1.354,0.074],[1.360,0.025],[1.367,0.101],[1.374,0.035],[1.382,0.104],[1.390,0.025],[1.398,0.118],[1.405,0.037],[1.412,0.112],[1.419,0.028],[1.426,0.104],[1.433,0.049],[1.439,0.101],[1.446,0.025],[1.454,0.020],[1.462,0.023],[1.469,0.014],[1.477,0.043],[1.485,0.060],[1.492,0.083],[1.498,0.126],[1.505,0.060],[1.512,0.058],[1.518,0.046],[1.526,0.060],[1.533,0.037],[1.541,0.025],[1.548,0.025],[1.556,0.014],[1.563,0.031],[1.572,0.025],[1.580,0.008],[1.588,0.014]];

const tio8430 = [[0.009,0.143],[0.014,0.153],[0.019,0.037],[0.026,0.025],[0.033,0.120],[0.040,0.072],[0.046,0.014],[0.053,0.025],[0.060,0.072],[0.066,0.037],[0.074,0.005],[0.081,0.005],[0.089,0.025],[0.096,0.089],[0.102,0.049],[0.109,0.092],[0.117,0.069],[0.122,0.060],[0.128,0.060],[0.134,0.135],[0.140,0.072],[0.146,0.025],[0.152,0.043],[0.158,0.031],[0.166,0.005],[0.173,0.025],[0.181,0.178],[0.188,0.077],[0.194,0.025],[0.201,0.118],[0.205,0.147],[0.210,0.077],[0.216,0.025],[0.222,0.005],[0.230,0.025],[0.237,0.037],[0.244,0.005],[0.253,0.035],[0.260,0.058],[0.266,0.025],[0.273,0.046],[0.280,0.060],[0.286,0.066],[0.293,0.051],[0.301,0.054],[0.309,0.025],[0.316,0.046],[0.324,0.025],[0.332,0.014],[0.339,0.025],[0.347,0.014],[0.355,0.031],[0.362,0.043],[0.368,0.025],[0.375,0.005],[0.383,0.037],[0.391,0.025],[0.398,0.005],[0.406,0.049],[0.413,0.025],[0.421,0.054],[0.429,0.014],[0.437,0.046],[0.444,0.074],[0.450,0.025],[0.457,0.025],[0.464,0.076],[0.470,0.025],[0.478,0.005],[0.486,0.025],[0.493,0.046],[0.500,0.025],[0.508,0.060],[0.515,0.077],[0.522,0.095],[0.529,0.025],[0.537,0.005],[0.544,0.031],[0.551,0.058],[0.557,0.069],[0.564,0.014],[0.573,0.060],[0.580,0.069],[0.587,0.025],[0.595,0.005],[0.602,0.012],[0.610,0.005],[0.621,0.014],[0.631,0.020],[0.641,0.023],[0.651,0.005],[0.662,0.005],[0.672,0.005],[0.682,0.014],[0.689,0.039],[0.695,0.054],[0.703,0.066],[0.710,0.069],[0.718,0.062],[0.725,0.025],[0.733,0.037],[0.741,0.083],[0.749,0.066],[0.756,0.014],[0.764,0.005],[0.771,0.012],[0.778,0.043],[0.784,0.025],[0.791,0.054],[0.799,0.083],[0.805,0.049],[0.812,0.069],[0.818,0.129],[0.823,0.187],[0.828,0.095],[0.835,0.025],[0.844,0.025],[0.851,0.005],[0.859,0.049],[0.866,0.112],[0.873,0.077],[0.880,0.025],[0.887,0.014],[0.894,0.060],[0.900,0.025],[0.907,0.077],[0.913,0.025],[0.920,0.014],[0.927,0.031],[0.936,0.083],[0.943,0.069],[0.950,0.025],[0.958,0.005],[0.966,0.025],[0.974,0.049],[0.981,0.106],[0.987,0.176],[0.993,0.170],[1.000,0.037],[1.005,0.083],[1.011,0.135],[1.017,0.037],[1.025,0.072],[1.032,0.124],[1.038,0.037],[1.045,0.005],[1.052,0.037],[1.060,0.101],[1.067,0.037],[1.074,0.014],[1.081,0.014],[1.089,0.025],[1.096,0.062],[1.103,0.069],[1.109,0.025],[1.117,0.089],[1.124,0.037],[1.132,0.116],[1.139,0.037],[1.147,0.025],[1.154,0.020],[1.163,0.060],[1.170,0.095],[1.178,0.118],[1.184,0.141],[1.190,0.083],[1.196,0.112],[1.203,0.199],[1.210,0.083],[1.216,0.014],[1.224,0.020],[1.232,0.043],[1.239,0.074],[1.246,0.025],[1.255,0.014],[1.263,0.025],[1.270,0.066],[1.277,0.037],[1.285,0.025],[1.294,0.037],[1.301,0.014],[1.308,0.028],[1.316,0.025],[1.324,0.031],[1.331,0.020],[1.338,0.025],[1.347,0.014],[1.354,0.031],[1.360,0.060],[1.367,0.116],[1.373,0.072],[1.379,0.060],[1.386,0.101],[1.392,0.106],[1.398,0.049],[1.405,0.054],[1.412,0.074],[1.418,0.025],[1.426,0.037],[1.434,0.005],[1.441,0.025],[1.449,0.062],[1.454,0.037],[1.461,0.054],[1.467,0.083],[1.475,0.025],[1.482,0.005],[1.490,0.014],[1.497,0.025],[1.504,0.031],[1.511,0.066],[1.518,0.129],[1.524,0.176],[1.531,0.112],[1.538,0.049],[1.544,0.106],[1.551,0.031],[1.559,0.054],[1.565,0.025],[1.572,0.060],[1.579,0.014],[1.587,0.031],[1.592,0.005]];

const tio8860 = [[0.009,0.073],[0.014,0.065],[0.019,0.148],[0.026,0.067],[0.031,0.027],[0.036,0.119],[0.043,0.067],[0.048,0.015],[0.053,0.009],[0.060,0.069],[0.069,0.055],[0.077,0.021],[0.084,0.012],[0.091,0.007],[0.097,0.021],[0.103,0.050],[0.109,0.102],[0.117,0.154],[0.123,0.108],[0.130,0.067],[0.137,0.038],[0.145,0.021],[0.152,0.009],[0.161,0.030],[0.168,0.021],[0.176,0.058],[0.182,0.032],[0.188,0.055],[0.194,0.021],[0.201,0.096],[0.208,0.044],[0.214,0.027],[0.222,0.015],[0.230,0.032],[0.236,0.021],[0.244,0.065],[0.253,0.079],[0.259,0.183],[0.265,0.079],[0.273,0.148],[0.279,0.055],[0.286,0.021],[0.293,0.044],[0.300,0.009],[0.307,0.073],[0.314,0.027],[0.322,0.021],[0.329,0.038],[0.336,0.073],[0.343,0.079],[0.350,0.119],[0.355,0.136],[0.360,0.102],[0.365,0.148],[0.371,0.061],[0.377,0.021],[0.386,0.032],[0.393,0.079],[0.400,0.055],[0.406,0.125],[0.413,0.058],[0.419,0.021],[0.426,0.073],[0.434,0.038],[0.440,0.102],[0.447,0.055],[0.454,0.021],[0.460,0.119],[0.465,0.203],[0.470,0.079],[0.478,0.009],[0.486,0.032],[0.493,0.044],[0.500,0.015],[0.508,0.038],[0.514,0.021],[0.520,0.032],[0.527,0.067],[0.534,0.142],[0.539,0.119],[0.545,0.125],[0.551,0.073],[0.557,0.125],[0.562,0.108],[0.568,0.061],[0.575,0.073],[0.582,0.050],[0.590,0.102],[0.596,0.055],[0.603,0.021],[0.610,0.050],[0.618,0.073],[0.624,0.032],[0.631,0.067],[0.636,0.119],[0.641,0.165],[0.646,0.148],[0.651,0.229],[0.656,0.194],[0.662,0.108],[0.668,0.119],[0.675,0.073],[0.682,0.021],[0.689,0.069],[0.696,0.021],[0.702,0.079],[0.710,0.032],[0.716,0.015],[0.723,0.090],[0.728,0.177],[0.733,0.119],[0.738,0.235],[0.743,0.154],[0.748,0.217],[0.754,0.183],[0.759,0.067],[0.766,0.021],[0.772,0.055],[0.779,0.009],[0.786,0.021],[0.795,0.073],[0.801,0.090],[0.807,0.058],[0.813,0.092],[0.819,0.032],[0.825,0.084],[0.831,0.067],[0.837,0.108],[0.844,0.044],[0.851,0.021],[0.858,0.015],[0.866,0.009],[0.872,0.032],[0.878,0.021],[0.884,0.079],[0.891,0.104],[0.897,0.099],[0.903,0.021],[0.910,0.073],[0.916,0.009],[0.923,0.044],[0.929,0.099],[0.936,0.021],[0.943,0.050],[0.950,0.021],[0.958,0.092],[0.964,0.055],[0.970,0.050],[0.977,0.119],[0.983,0.154],[0.989,0.136],[0.994,0.194],[0.998,0.255],[1.002,0.079],[1.007,0.096],[1.013,0.032],[1.019,0.099],[1.025,0.038],[1.032,0.073],[1.038,0.032],[1.045,0.009],[1.052,0.044],[1.060,0.092],[1.067,0.021],[1.074,0.007],[1.081,0.021],[1.089,0.073],[1.095,0.021],[1.101,0.042],[1.108,0.079],[1.115,0.113],[1.120,0.148],[1.126,0.079],[1.132,0.021],[1.140,0.038],[1.147,0.027],[1.154,0.044],[1.163,0.009],[1.170,0.021],[1.178,0.055],[1.184,0.042],[1.191,0.084],[1.197,0.032],[1.205,0.123],[1.211,0.032],[1.217,0.021],[1.224,0.038],[1.231,0.021],[1.238,0.123],[1.245,0.079],[1.252,0.032],[1.259,0.084],[1.265,0.055],[1.270,0.092],[1.275,0.055],[1.283,0.021],[1.291,0.023],[1.298,0.067],[1.304,0.021],[1.311,0.009],[1.318,0.023],[1.326,0.015],[1.334,0.021],[1.342,0.009],[1.350,0.021],[1.357,0.032],[1.364,0.111],[1.370,0.021],[1.377,0.044],[1.385,0.079],[1.391,0.030],[1.398,0.073],[1.405,0.096],[1.411,0.032],[1.418,0.009],[1.426,0.044],[1.432,0.084],[1.439,0.021],[1.446,0.073],[1.452,0.067],[1.459,0.021],[1.466,0.125],[1.473,0.050],[1.480,0.015],[1.487,0.027],[1.493,0.032],[1.500,0.021],[1.507,0.009],[1.515,0.027],[1.523,0.065],[1.529,0.061],[1.536,0.073],[1.543,0.050],[1.549,0.079],[1.556,0.030],[1.561,0.119],[1.568,0.038],[1.574,0.067],[1.580,0.038],[1.587,0.081],[1.592,0.021]];

// ---- layout ----
const plotW = 616, panelH = 106, topY = 53;
const colLeft = [77, 748];
const yAxisW = 50, padT = 12, padB = 12, padR = 14;
const tickFont = { family: "DejaVu Sans", size: 15 };

const markerPlugin = {
  id: "markers",
  beforeDatasetsDraw(chart) {
    const { ctx, chartArea: a, scales } = chart;
    const x = scales.x;
    ctx.save();
    ctx.beginPath();
    ctx.rect(a.left, a.top, a.width, a.height);
    ctx.clip();
    const b0 = x.getPixelForValue(blueBand[0]);
    const b1 = x.getPixelForValue(blueBand[1]);
    ctx.fillStyle = "rgba(100,149,237,0.6)";
    ctx.fillRect(b0, a.top, b1 - b0, a.height);
    ctx.lineWidth = 2.5;
    ctx.strokeStyle = "rgba(44,160,44,0.75)";
    const g = x.getPixelForValue(greenF);
    ctx.beginPath(); ctx.moveTo(g, a.top); ctx.lineTo(g, a.bottom); ctx.stroke();
    ctx.lineWidth = 4;
    ctx.strokeStyle = "rgba(255,60,60,0.7)";
    const r = x.getPixelForValue(redF);
    ctx.beginPath(); ctx.moveTo(r, a.top); ctx.lineTo(r, a.bottom); ctx.stroke();
    ctx.restore();
  },
  afterDraw(chart) {
    const { ctx, chartArea: a } = chart;
    ctx.save();
    ctx.strokeStyle = "#000";
    ctx.lineWidth = 1;
    ctx.strokeRect(Math.round(a.left) + 0.5, Math.round(a.top) + 0.5, Math.round(a.width), Math.round(a.height));
    ctx.restore();
  }
};

function toXY(arr) {
  return arr.map(([x, y]) => ({ x: x, y: y }));
}
function hline(level) {
  return [{ x: xMin, y: level }, { x: xMax, y: level }];
}

function makePanel(cfg) {
  const topAx = cfg.topTicks ? 30 : 0;
  const botAx = cfg.bottom ? 30 : 0;
  const div = document.createElement("div");
  div.className = "panel";
  div.style.left = (cfg.left - yAxisW) + "px";
  div.style.top = (cfg.y0 - padT - topAx) + "px";
  div.style.width = (plotW + yAxisW + padR) + "px";
  div.style.height = (panelH + padT + padB + topAx + botAx) + "px";
  const cv = document.createElement("canvas");
  div.appendChild(cv);
  document.body.appendChild(div);

  const datasets = [
    { data: toXY(cfg.series), borderColor: "#000", borderWidth: 1.5, order: 0 },
    { data: hline(cfg.dot), borderColor: "#000", borderWidth: 1.2, borderDash: [1.5, 2.5], order: 1 },
    { data: hline(cfg.dashDot), borderColor: "#000", borderWidth: 1.2, borderDash: [8, 3, 1.5, 3], order: 2 },
    { data: hline(cfg.dashed), borderColor: "#000", borderWidth: 1.2, borderDash: [5, 2.5], order: 3 }
  ];
  if (cfg.window) {
    datasets.push({ data: toXY(cfg.window), borderColor: "#b9c0c7", borderWidth: 3, order: 5 });
  }

  const scales = {
    x: {
      type: "linear", min: xMin, max: xMax,
      display: !!cfg.bottom,
      position: "bottom",
      afterBuildTicks: s => { s.ticks = bottomTicks.map(v => ({ value: v })); },
      afterFit: s => { s.height = cfg.bottom ? botAx : 0; },
      ticks: { autoSkip: false, maxRotation: 0, padding: 3, color: "#000", font: tickFont,
               callback: v => v.toFixed(2) },
      grid: { display: true, drawOnChartArea: false, drawTicks: true, tickLength: 5, color: "#000" },
      border: { display: false }
    },
    y: {
      type: "linear", min: 0, max: cfg.ymax,
      afterBuildTicks: s => { s.ticks = cfg.yTicks.map(v => ({ value: v })); },
      afterFit: s => { s.width = yAxisW; },
      ticks: { padding: 3, color: "#000", font: tickFont, callback: v => v.toFixed(1) },
      grid: { display: true, drawOnChartArea: false, drawTicks: true, tickLength: 5, color: "#000" },
      border: { display: false }
    }
  };
  if (cfg.topTicks) {
    scales.xt = {
      type: "linear", min: xMin, max: xMax, position: "top",
      afterBuildTicks: s => { s.ticks = cfg.topTicks.map(v => ({ value: v })); },
      afterFit: s => { s.height = topAx; },
      ticks: { autoSkip: false, maxRotation: 0, padding: 3, color: "#000", font: tickFont,
               callback: (v, i) => cfg.topLabels[i] },
      grid: { display: true, drawOnChartArea: false, drawTicks: true, tickLength: 5, color: "#000" },
      border: { display: false }
    };
  }

  new Chart(cv, {
    type: "line",
    data: { datasets: datasets },
    options: {
      responsive: true,
      maintainAspectRatio: false,
      animation: false,
      devicePixelRatio: 1,
      layout: { padding: { top: padT, bottom: padB, right: padR, left: 0 } },
      elements: { point: { radius: 0 }, line: { tension: 0, fill: false } },
      plugins: { legend: { display: false }, tooltip: { enabled: false }, title: { display: false } },
      scales: scales
    },
    plugins: [markerPlugin]
  });
}

const leftSeries = [rvCar, ocOne, ocTwo, ocOneGp, ocTwoGp, crx];
const rightSeries = [dlw, halpha, caIrt, tio7050, tio8430, tio8860];

leftSeries.forEach((s, i) => {
  const small = i === 5;
  makePanel({
    left: colLeft[0], y0: topY + i * panelH, series: s,
    window: i === 0 ? rvCarWindow : null,
    ymax: small ? 0.37 : 0.55,
    yTicks: small ? [0, 0.2] : [0, 0.2, 0.4],
    dot: fapDotted[i], dashDot: fapDashDot[i], dashed: fapDashed[i],
    topTicks: i === 0 ? topTicksLeft : null, topLabels: topLabelsLeft,
    bottom: i === 5
  });
});
rightSeries.forEach((s, i) => {
  makePanel({
    left: colLeft[1], y0: topY + i * panelH, series: s,
    ymax: 0.37, yTicks: [0, 0.2],
    dot: fapDotted[6 + i], dashDot: fapDashDot[6 + i], dashed: fapDashed[6 + i],
    topTicks: i === 0 ? topTicksRight : null, topLabels: topLabelsRight,
    bottom: i === 5
  });
});
</script>
</body>
</html>
